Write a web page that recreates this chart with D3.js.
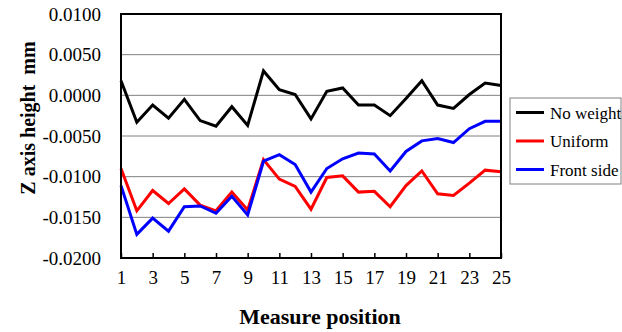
<!DOCTYPE html>
<html><head><meta charset="utf-8">
<script src="https://cdn.jsdelivr.net/npm/d3@7"></script>
<style>body{margin:0;background:#fff}svg{display:block}
svg text{font-family:"Liberation Serif","Times New Roman","DejaVu Serif",serif !important;}</style>
</head><body>
<script>
const positions = d3.range(1, 26);
const noWeight = [0.0018,-0.0033,-0.0012,-0.0028,-0.0005,-0.0031,-0.0038,-0.0014,-0.0037,0.0030,0.0007,0.0001,-0.0029,0.0005,0.0009,-0.0012,-0.0012,-0.0025,-0.0004,0.0018,-0.0012,-0.0016,0.0001,0.0015,0.0012];
const uniform = [-0.0090,-0.0142,-0.0117,-0.0133,-0.0115,-0.0135,-0.0142,-0.0119,-0.0141,-0.0079,-0.0103,-0.0112,-0.0140,-0.0101,-0.0099,-0.0119,-0.0118,-0.0137,-0.0111,-0.0093,-0.0121,-0.0123,-0.0108,-0.0092,-0.0094];
const frontSide = [-0.0111,-0.0171,-0.0151,-0.0167,-0.0137,-0.0136,-0.0145,-0.0124,-0.0147,-0.0081,-0.0073,-0.0085,-0.0119,-0.0090,-0.0078,-0.0071,-0.0072,-0.0093,-0.0069,-0.0056,-0.0053,-0.0058,-0.0041,-0.0032,-0.0032];
const seriesNames = ["No weight","Uniform","Front side"];
const seriesColors = ["#000000","#ff0000","#0000ff"];
const yTicks = [0.01,0.005,0,-0.005,-0.01,-0.015,-0.02];
const xTicks = [1,3,5,7,9,11,13,15,17,19,21,23,25];

const W = 622, H = 332;
const svg = d3.select("body").append("svg").attr("width", W).attr("height", H);
const L = 121, R = 501, T = 14, B = 258;
const x = d3.scaleLinear().domain([1,25]).range([L,R]);
const y = d3.scaleLinear().domain([-0.02,0.01]).range([B,T]);

// gridlines
svg.append("g").selectAll("line").data(yTicks.filter(d => d > -0.02 && d < 0.01)).join("line")
  .attr("x1", L).attr("x2", R).attr("y1", d => y(d)).attr("y2", d => y(d))
  .attr("stroke", "#808080").attr("stroke-width", 1);

// y axis labels
const yAxis = d3.axisLeft(y).tickValues(yTicks).tickSize(0).tickPadding(20)
  .tickFormat(d => d3.format(".4f")(d).replace("−","-"));
const gy = svg.append("g").attr("transform", `translate(${L},0)`).call(yAxis);
gy.attr("font-family", null).attr("font-size", null);
gy.select(".domain").remove();
gy.selectAll("text").attr("font-size", 19).attr("fill", "#000");

// x axis
const xAxis = d3.axisBottom(x).tickValues(xTicks).tickSize(-5).tickPadding(13);
const gx = svg.append("g").attr("transform", `translate(0,${B})`).call(xAxis);
gx.attr("font-family", null).attr("font-size", null);
gx.select(".domain").remove();
gx.selectAll("line").attr("stroke", "#000").attr("stroke-width", 1.5);
gx.selectAll("text").attr("font-size", 19).attr("fill", "#000");

// lines
const line = d3.line().x((d,i) => x(positions[i])).y(d => y(d));
[noWeight, uniform, frontSide].forEach((s, k) => {
  svg.append("path").datum(s).attr("d", line).attr("fill", "none")
    .attr("stroke", seriesColors[k]).attr("stroke-width", 3).attr("stroke-linejoin", "miter");
});

// frame
svg.append("rect").attr("x", L).attr("y", T).attr("width", R-L).attr("height", B-T)
  .attr("fill", "none").attr("stroke", "#000").attr("stroke-width", 2);

// axis titles
svg.append("text").attr("x", 320).attr("y", 324).attr("text-anchor", "middle")
  .attr("font-weight", "bold").attr("font-size", 22).text("Measure position");
svg.append("text").attr("transform", "translate(35,118) rotate(-90)").attr("text-anchor", "middle")
  .attr("font-weight", "bold").attr("font-size", 20)
  .style("white-space", "pre").text("Z axis height  mm");

// legend
const lg = svg.append("g");
lg.append("rect").attr("x", 510).attr("y", 98).attr("width", 111).attr("height", 86)
  .attr("fill", "#fff").attr("stroke", "#808080").attr("stroke-width", 1);
seriesNames.forEach((n, i) => {
  const yy = 112.5 + i * 28.5;
  lg.append("line").attr("x1", 516).attr("x2", 544).attr("y1", yy).attr("y2", yy)
    .attr("stroke", seriesColors[i]).attr("stroke-width", 3);
  lg.append("text").attr("x", 550).attr("y", yy + 6)
    .attr("font-size", 17).attr("fill", "#000").text(n);
});
</script>
</body></html>
